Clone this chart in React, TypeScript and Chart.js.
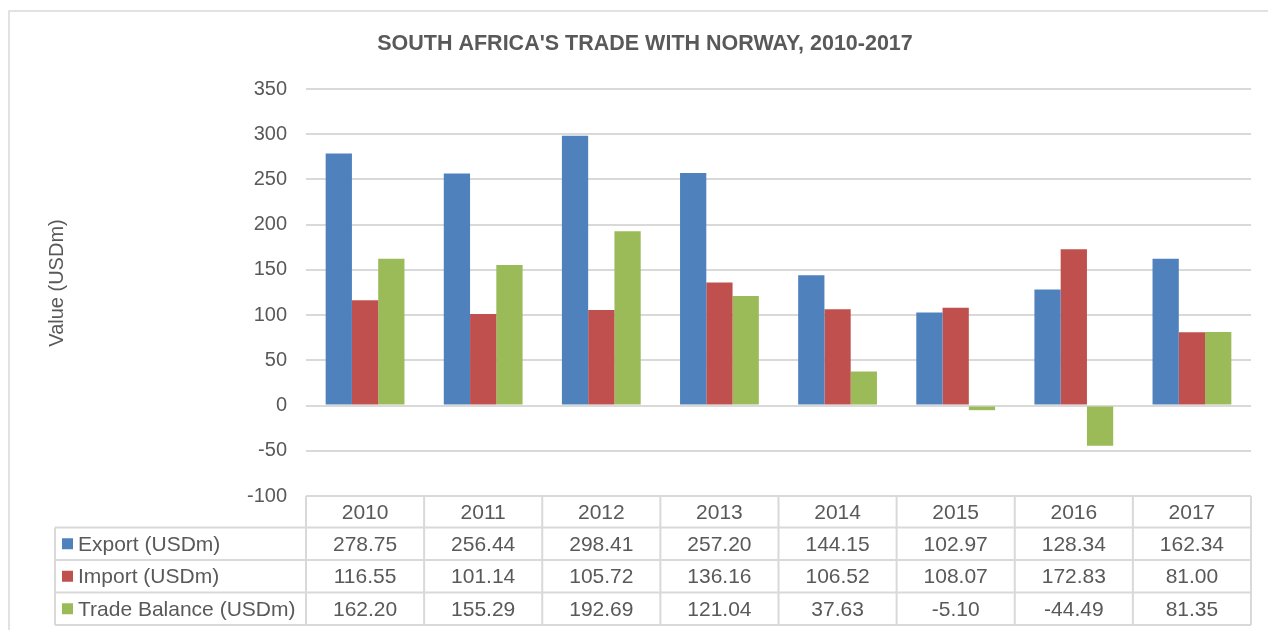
import React, { useEffect, useRef } from "react";
import { Chart, registerables } from "chart.js";

Chart.register(...registerables);

const years = ["2010", "2011", "2012", "2013", "2014", "2015", "2016", "2017"];
const exportVals = [278.75, 256.44, 298.41, 257.2, 144.15, 102.97, 128.34, 162.34];
const importVals = [116.55, 101.14, 105.72, 136.16, 106.52, 108.07, 172.83, 81.0];
const balanceVals = [162.2, 155.29, 192.69, 121.04, 37.63, -5.1, -44.49, 81.35];
const seriesNames = ["Export (USDm)", "Import (USDm)", "Trade Balance (USDm)"];
const seriesColors = ["#4F81BD", "#C0504D", "#9BBB59"];
const chartTitle = "SOUTH AFRICA'S TRADE WITH NORWAY, 2010-2017";
const yTitle = "Value (USDm)";

const FONT = "'Liberation Sans', Arial, sans-serif";
const TEXT = "#595959";
const LINE = "#d9d9d9";

const tablePlugin = {
  id: "tablePlugin",
  afterDraw(chart: any) {
    const ctx = chart.ctx as CanvasRenderingContext2D;
    const ca = chart.chartArea;
    const xs = chart.scales.x;
    ctx.save();
    // outer border
    ctx.strokeStyle = LINE;
    ctx.lineWidth = 1.5;
    ctx.beginPath();
    ctx.moveTo(9, 630);
    ctx.lineTo(9, 11);
    ctx.lineTo(1268, 11);
    ctx.stroke();

    // title
    ctx.fillStyle = TEXT;
    ctx.font = `bold 21.5px ${FONT}`;
    ctx.textAlign = "center";
    ctx.textBaseline = "middle";
    ctx.fillText(chartTitle, 645, 44);

    // y title
    ctx.save();
    ctx.translate(57, 283);
    ctx.rotate(-Math.PI / 2);
    ctx.font = `20px ${FONT}`;
    ctx.fillText(yTitle, 0, 0);
    ctx.restore();

    // table
    const n = years.length;
    const left = ca.left;
    const right = ca.right;
    const cw = (right - left) / n;
    const headerTop = ca.bottom;
    const rowH = 32.5;
    const headerH = 31.5;
    const legendLeft = 55;
    const rowsTop = headerTop + headerH;
    const rowsBottom = rowsTop + rowH * 3;

    ctx.strokeStyle = LINE;
    ctx.lineWidth = 2;
    ctx.beginPath();
    ctx.moveTo(left, headerTop);
    ctx.lineTo(right, headerTop);
    for (let r = 0; r <= 3; r++) {
      const y = rowsTop + r * rowH;
      ctx.moveTo(legendLeft, y);
      ctx.lineTo(right, y);
    }
    for (let i = 0; i <= n; i++) {
      const x = left + i * cw;
      ctx.moveTo(x, headerTop);
      ctx.lineTo(x, rowsBottom);
    }
    ctx.moveTo(legendLeft, rowsTop);
    ctx.lineTo(legendLeft, rowsBottom);
    ctx.stroke();

    ctx.fillStyle = TEXT;
    ctx.font = `21px ${FONT}`;
    ctx.textAlign = "center";
    ctx.textBaseline = "middle";
    const allVals = [exportVals, importVals, balanceVals];
    for (let i = 0; i < n; i++) {
      const cx = xs.getPixelForValue(i);
      ctx.fillText(years[i], cx, headerTop + headerH / 2 + 1);
      for (let r = 0; r < 3; r++) {
        ctx.fillText(allVals[r][i].toFixed(2), cx, rowsTop + r * rowH + rowH / 2 + 1);
      }
    }
    ctx.textAlign = "left";
    for (let r = 0; r < 3; r++) {
      const cy = rowsTop + r * rowH + rowH / 2;
      ctx.fillStyle = seriesColors[r];
      ctx.fillRect(62, cy - 5.5, 11, 11);
      ctx.fillStyle = TEXT;
      ctx.fillText(seriesNames[r], 78, cy + 1);
    }
    ctx.restore();
  },
};

export default function App() {
  const ref = useRef<HTMLCanvasElement>(null);
  useEffect(() => {
    if (!ref.current) return;
    const chart = new Chart(ref.current, {
      type: "bar",
      data: {
        labels: years,
        datasets: [
          { label: seriesNames[0], data: exportVals, backgroundColor: seriesColors[0] },
          { label: seriesNames[1], data: importVals, backgroundColor: seriesColors[1] },
          { label: seriesNames[2], data: balanceVals, backgroundColor: seriesColors[2] },
        ],
      },
      options: {
        responsive: false,
        animation: false,
        layout: { padding: { left: 0, top: 89, right: 17, bottom: 134 } },
        datasets: {
          bar: { categoryPercentage: 0.667, barPercentage: 1.0, borderWidth: 0 },
        },
        plugins: {
          legend: { display: false },
          title: { display: false },
          tooltip: { enabled: false },
        },
        scales: {
          x: { display: false },
          y: {
            min: -100,
            max: 350,
            afterFit: (scale: any) => {
              scale.width = 306;
            },
            ticks: {
              stepSize: 50,
              padding: 19,
              color: TEXT,
              font: { family: FONT, size: 20 },
            },
            grid: { color: LINE, lineWidth: 2, drawTicks: false },
            border: { display: false },
          },
        },
      },
      plugins: [tablePlugin],
    });
    return () => chart.destroy();
  }, []);
  return (
    <div style={{ position: "fixed", left: 0, top: 0, width: 1268, height: 630, background: "#fff" }}>
      <canvas ref={ref} width={1268} height={630} style={{ display: "block" }} />
    </div>
  );
}
